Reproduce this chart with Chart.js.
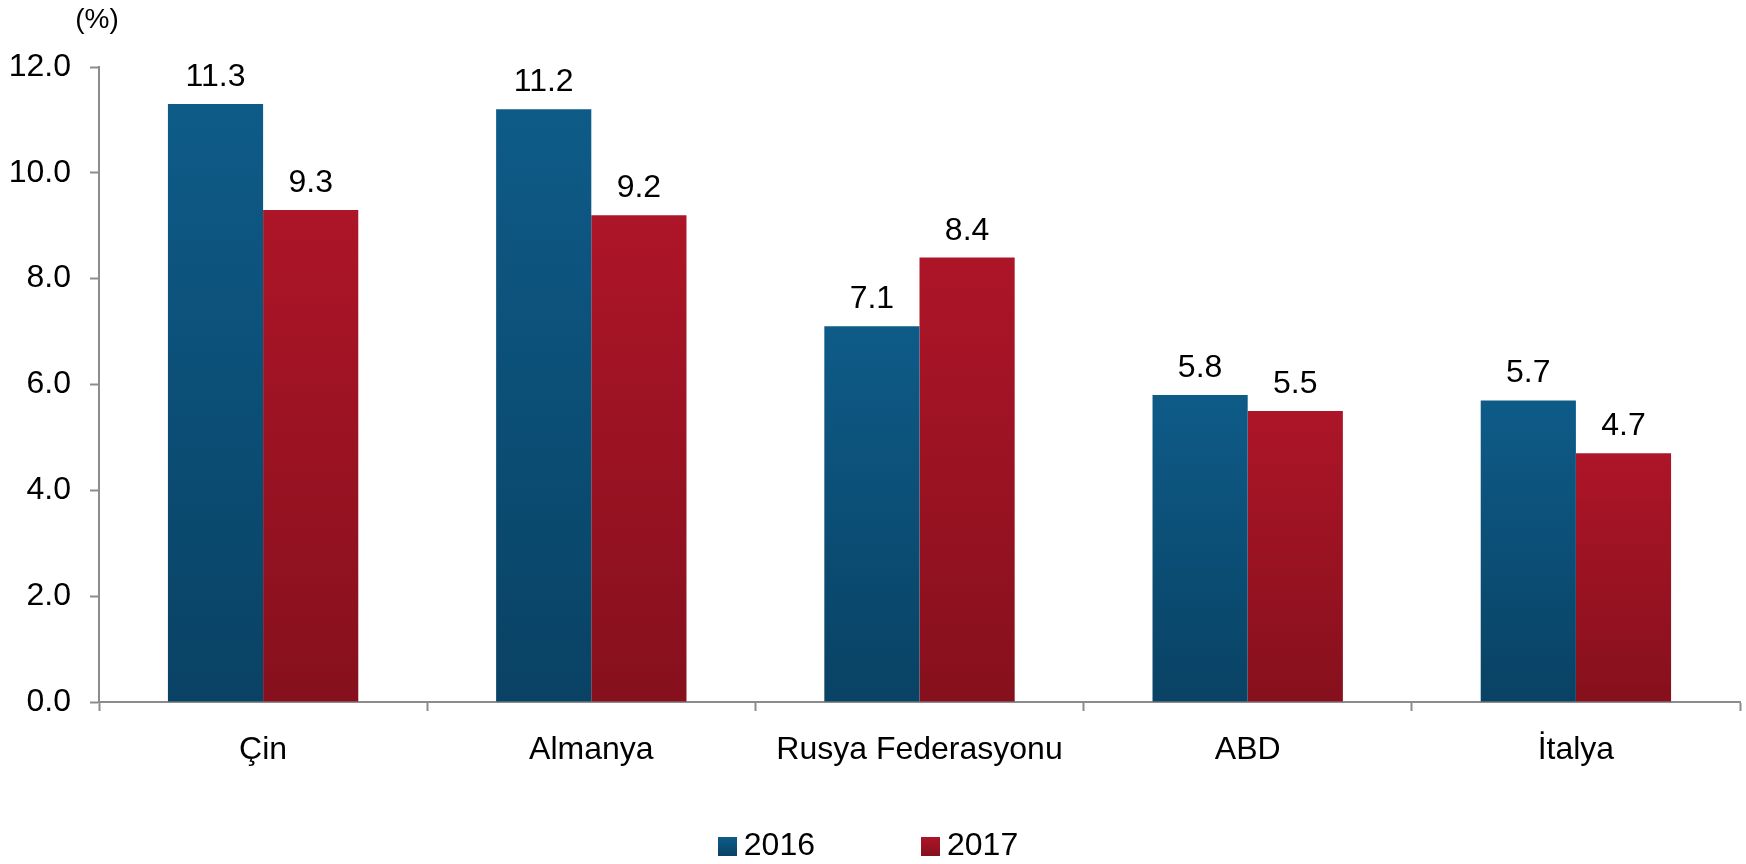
<!DOCTYPE html>
<html>
<head>
<meta charset="utf-8">
<script src="https://cdn.jsdelivr.net/npm/chart.js@4/dist/chart.umd.min.js"></script>
<style>
  html, body { margin: 0; padding: 0; background: #ffffff; }
  #wrap { width: 1746px; height: 864px; position: relative; }
</style>
</head>
<body>
<div id="wrap"><canvas id="c" width="1746" height="864"></canvas></div>
<script>
const categories = ["Çin", "Almanya", "Rusya Federasyonu", "ABD", "İtalya"];
const series2016 = [11.3, 11.2, 7.1, 5.8, 5.7];
const series2017 = [9.3, 9.2, 8.4, 5.5, 4.7];
const seriesLabels = ["2016", "2017"];
const yTicks = [0, 2, 4, 6, 8, 10, 12];
const unitLabel = "(%)";

const FONT = "'Liberation Sans', Arial, Helvetica, sans-serif";
const palettes = [
  { top: "#0e5b88", bottom: "#094264" },
  { top: "#ad1528", bottom: "#86101d" }
];

function barGradient(ctx, dsIndex) {
  const chart = ctx.chart;
  const pal = palettes[dsIndex];
  if (!chart.chartArea || !chart.scales.y || ctx.raw === undefined) return pal.top;
  const y0 = chart.scales.y.getPixelForValue(ctx.raw);
  const y1 = chart.scales.y.getPixelForValue(0);
  if (!isFinite(y0) || !isFinite(y1) || y0 === y1) return pal.top;
  const g = chart.ctx.createLinearGradient(0, y0, 0, y1);
  g.addColorStop(0, pal.top);
  g.addColorStop(1, pal.bottom);
  return g;
}

const valueLabels = {
  id: "valueLabels",
  afterDatasetsDraw(chart) {
    const ctx = chart.ctx;
    ctx.save();
    ctx.font = "32px " + FONT;
    ctx.fillStyle = "#000000";
    ctx.textAlign = "center";
    ctx.textBaseline = "alphabetic";
    chart.data.datasets.forEach((ds, i) => {
      const meta = chart.getDatasetMeta(i);
      meta.data.forEach((el, j) => {
        ctx.fillText(ds.data[j].toFixed(1), el.x, el.y - 18);
      });
    });
    ctx.restore();
  }
};

const extras = {
  id: "extras",
  afterDraw(chart) {
    const ctx = chart.ctx;
    ctx.save();
    // unit label
    ctx.font = "28px " + FONT;
    ctx.fillStyle = "#000000";
    ctx.textAlign = "center";
    ctx.textBaseline = "middle";
    ctx.fillText(unitLabel, 97, 20);
    // legend
    ctx.font = "32px " + FONT;
    ctx.textAlign = "left";
    const box = 19, gap = 7, itemGap = 106;
    const items = chart.data.datasets.map((ds, i) => ({
      text: ds.label, color: palettes[i], w: box + gap + ctx.measureText(ds.label).width
    }));
    const total = items.reduce((s, it) => s + it.w, 0) + itemGap * (items.length - 1);
    let x = chart.width / 2 - 5 - total / 2;
    const cy = 846.5;
    items.forEach((it) => {
      const g = ctx.createLinearGradient(0, cy - box / 2, 0, cy + box / 2);
      g.addColorStop(0, it.color.top);
      g.addColorStop(1, it.color.bottom);
      ctx.fillStyle = g;
      ctx.fillRect(Math.round(x), Math.round(cy - box / 2), box, box);
      ctx.fillStyle = "#000000";
      ctx.textBaseline = "middle";
      ctx.fillText(it.text, x + box + gap, cy);
      x += it.w + itemGap;
    });
    ctx.restore();
  }
};

new Chart(document.getElementById("c"), {
  type: "bar",
  data: {
    labels: categories,
    datasets: [
      {
        label: seriesLabels[0],
        data: series2016,
        backgroundColor: (ctx) => barGradient(ctx, 0),
        borderWidth: 0
      },
      {
        label: seriesLabels[1],
        data: series2017,
        backgroundColor: (ctx) => barGradient(ctx, 1),
        borderWidth: 0
      }
    ]
  },
  options: {
    responsive: false,
    animation: false,
    devicePixelRatio: 1,
    layout: { padding: { left: 0, right: 6, top: 67, bottom: 0 } },
    datasets: {
      bar: { categoryPercentage: 0.58, barPercentage: 1.0 }
    },
    plugins: {
      legend: { display: false },
      tooltip: { enabled: false },
      title: { display: false }
    },
    scales: {
      x: {
        type: "category",
        offset: true,
        grid: {
          offset: true,
          drawOnChartArea: false,
          drawTicks: true,
          tickLength: 9,
          tickWidth: 2,
          tickColor: "#8c8c8c",
          color: "#8c8c8c"
        },
        border: { display: true, color: "#8c8c8c", width: 2 },
        ticks: {
          color: "#000000",
          font: { family: FONT, size: 32 },
          padding: 20,
          maxRotation: 0,
          autoSkip: false
        },
        afterFit(scale) { scale.height = 162; }
      },
      y: {
        min: 0,
        max: 12,
        afterBuildTicks(scale) { scale.ticks = yTicks.map(v => ({ value: v })); },
        grid: {
          drawOnChartArea: false,
          drawTicks: true,
          tickLength: 9,
          tickWidth: 2,
          tickColor: "#8c8c8c",
          color: "#8c8c8c"
        },
        border: { display: true, color: "#8c8c8c", width: 2 },
        ticks: {
          color: "#000000",
          font: { family: FONT, size: 32 },
          padding: 19,
          callback: (v) => Number(v).toFixed(1)
        },
        afterFit(scale) { scale.width = 99; }
      }
    }
  },
  plugins: [valueLabels, extras]
});
</script>
</body>
</html>
